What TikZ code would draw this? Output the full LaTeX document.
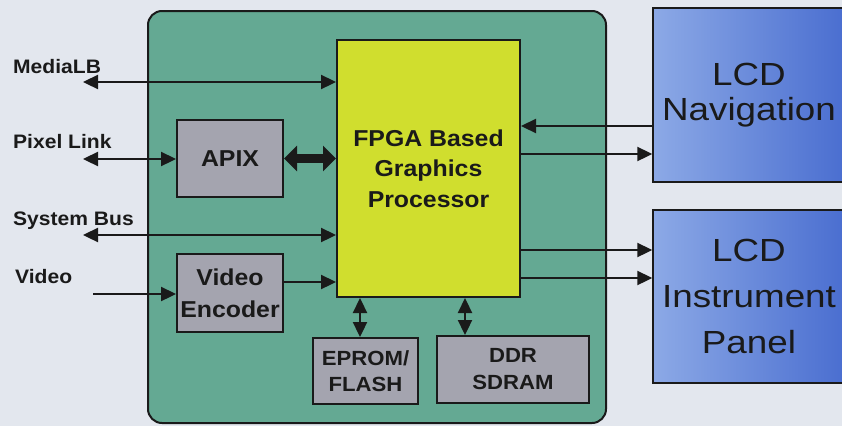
\documentclass[tikz,border=0pt]{standalone}
\usepackage{fontspec}
\setmainfont{Liberation Sans}[FakeStretch=1.08]
\newfontfamily\lcdfont{Liberation Sans}[FakeStretch=1.15]
\usetikzlibrary{arrows.meta}
\definecolor{bgc}{HTML}{E3E7EE}
\definecolor{greenc}{HTML}{64A993}
\definecolor{yellowc}{HTML}{D0DE2E}
\definecolor{greyc}{HTML}{A4A4AF}
\definecolor{blueL}{HTML}{8CA9E6}
\definecolor{blueR}{HTML}{4A6ED0}
\definecolor{linec}{HTML}{1A1A1A}
\begin{document}
\begin{tikzpicture}[x=1pt,y=-1pt,
  box/.style={draw=linec, line width=2pt, fill=greyc, inner sep=0pt, align=center, text=linec},
  lbl/.style={anchor=base west, inner sep=0pt, text=linec, font=\bfseries\fontsize{19.5}{24}\selectfont},
  arr/.style={line width=2.3pt, draw=linec, -{Triangle[length=15pt,width=14pt]}},
  dbl/.style={line width=2.3pt, draw=linec, {Triangle[length=15pt,width=14pt]}-{Triangle[length=15pt,width=14pt]}},
  lcd/.style={draw=linec, line width=1.5pt, left color=blueL, right color=blueR, inner sep=0pt, align=center, text=linec}
]
\clip (0,0) rectangle (842,426);
\fill[bgc] (0,0) rectangle (842,426);

% main panel
\draw[fill=greenc, draw=linec, line width=2pt, rounded corners=14pt] (148,11) rectangle (606,423);

% blocks
\node[box, fill=yellowc, minimum width=183pt, minimum height=257pt,
      font=\bfseries\fontsize{23}{30.5}\selectfont] (fpga) at (428.5,168.5) {FPGA Based\\Graphics\\Processor};
\node[box, minimum width=106pt, minimum height=77pt,
      font=\bfseries\fontsize{23}{28}\selectfont] (apix) at (230,158.5) {APIX};
\node[box, minimum width=106pt, minimum height=78pt,
      font=\bfseries\fontsize{23}{32}\selectfont] (venc) at (230,293) {Video\\Encoder};
\node[box, minimum width=105pt, minimum height=66pt,
      font=\bfseries\fontsize{20.5}{26}\selectfont] (eprom) at (365.5,371) {EPROM/\\FLASH};
\node[box, minimum width=152pt, minimum height=67pt,
      font=\bfseries\fontsize{20.5}{27}\selectfont] (ddr) at (513,369.5) {DDR\\SDRAM};

% LCD panels
\node[lcd, minimum width=192pt, minimum height=174pt,
      font=\lcdfont\fontsize{32}{35}\selectfont] (nav) at (749,95) {LCD\\Navigation};
\node[lcd, minimum width=192pt, minimum height=173pt,
      font=\lcdfont\fontsize{32}{46}\selectfont] (inst) at (749,296.5) {LCD\\Instrument\\Panel};

% left labels
\node[lbl] (lmlb) at (13,73) {MediaLB};
\node[lbl] (lpix) at (13,148) {Pixel Link};
\node[lbl] (lsys) at (13,225) {System Bus};
\node[lbl] (lvid) at (15,283) {Video};

% free ends
\coordinate (emlb) at (83,82);
\coordinate (epix) at (83,159);
\coordinate (esys) at (83,235);
\coordinate (evid) at (93,294);

% left connectors
\draw[dbl] (emlb) -- (emlb -| fpga.west);
\draw[dbl] (epix) -- (epix -| apix.west);
\draw[dbl] (esys) -- (esys -| fpga.west);
\draw[arr] (evid) -- (evid -| venc.west);
\draw[arr] (venc.east |- 0,282) -- (fpga.west |- 0,282);
\draw[line width=9pt, draw=linec,
      {Triangle[length=13pt,width=25pt]}-{Triangle[length=13pt,width=25pt]}]
      (apix.east) -- (apix.east -| fpga.west);

% memory connectors
\draw[dbl] (fpga.south -| 360,0) -- (eprom.north -| 360,0);
\draw[dbl] (fpga.south -| 465,0) -- (ddr.north -| 465,0);

% right connectors
\draw[arr] (nav.west |- 0,126) -- (fpga.east |- 0,126);
\draw[arr] (fpga.east |- 0,154) -- (nav.west |- 0,154);
\draw[arr] (fpga.east |- 0,250) -- (inst.west |- 0,250);
\draw[arr] (fpga.east |- 0,278) -- (inst.west |- 0,278);
\end{tikzpicture}
\end{document}
